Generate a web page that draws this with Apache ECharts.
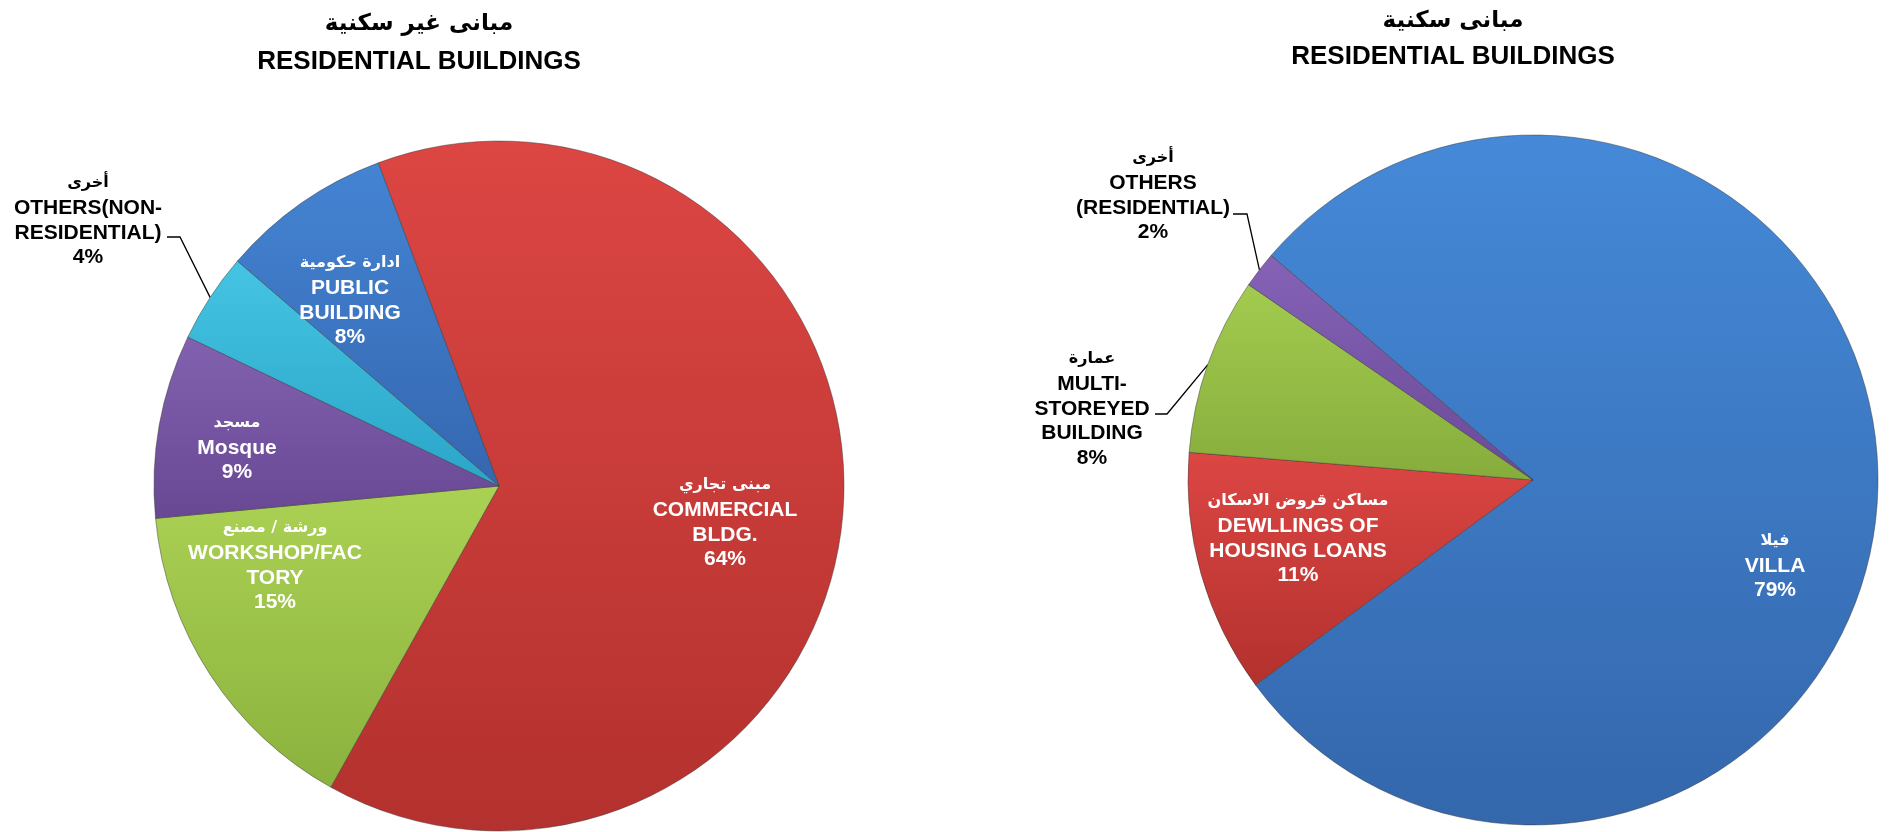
<!DOCTYPE html>
<html>
<head>
<meta charset="utf-8">
<script src="https://cdn.jsdelivr.net/npm/echarts@6/dist/echarts.min.js"></script>
<style>
  html, body { margin: 0; padding: 0; background: #ffffff; }
  #chart { width: 1889px; height: 832px; }
</style>
</head>
<body>
<div id="chart"></div>
<script>
// ---------------- DATA ----------------
const leftTitleAr = 'مبانى غير سكنية';
const leftTitleEn = 'RESIDENTIAL BUILDINGS';
const rightTitleAr = 'مبانى سكنية';
const rightTitleEn = 'RESIDENTIAL BUILDINGS';

// Non-residential (left pie), clockwise from top
const leftCategories = ['COMMERCIAL\nBLDG.', 'WORKSHOP/FAC\nTORY', 'Mosque', 'OTHERS(NON-\nRESIDENTIAL)', 'PUBLIC\nBUILDING'];
const leftArabic = ['مبنى تجاري', 'ورشة / مصنع', 'مسجد', 'أخرى', 'ادارة حكومية'];
const leftValues = [63.8, 15.4, 8.6, 4.2, 8.0];

// Residential (right pie), clockwise from top-left
const rightCategories = ['VILLA', 'DEWLLINGS OF\nHOUSING LOANS', 'MULTI-\nSTOREYED\nBUILDING', 'OTHERS\n(RESIDENTIAL)'];
const rightArabic = ['فيلا', 'مساكن قروض الاسكان', 'عمارة', 'أخرى'];
const rightValues = [78.6, 11.4, 8.3, 1.7];

// ---------------- STYLE / LAYOUT ----------------
const EN_FONT = '"Liberation Sans", Arial, "DejaVu Sans", sans-serif';
const AR_FONT = '"DejaVu Sans", "Liberation Sans", sans-serif';

const leftColors = [
  ['#dc4643', '#b3312e'],
  ['#abd154', '#8bb23d'],
  ['#8262b0', '#684893'],
  ['#44c4e2', '#2ba5c8'],
  ['#4484d3', '#3567b0']
];
const rightColors = [
  ['#4589d8', '#3467ac'],
  ['#dc4643', '#b3312e'],
  ['#a3cb4f', '#86ad3c'],
  ['#8562b6', '#6a4a98']
];
const leftOutside = [false, false, false, true, false];
const rightOutside = [false, false, true, true];

const leftPie = { center: [499, 486], radius: 345, start: 110.5 };
const rightPie = { center: [1533, 480], radius: 345, start: 139.4 };

// label block centre offsets from pie centre
const leftLabelOffsets = [[226, 36], [-224, 79], [-262, -39], [-411, -266], [-149, -186]];
const rightLabelOffsets = [[242, 85], [-235, 58], [-441, -72], [-380, -285]];
// leader line elbow / end offsets from pie centre (outside labels only)
const leftLeaders = { 3: [[-319, -249], [-332, -249]] };
const rightLeaders = { 2: [[-366, -66], [-378, -66]], 3: [[-286, -266], [-300, -266]] };

function grad(pair) {
  return {
    type: 'linear', x: 0, y: 0, x2: 0, y2: 1,
    colorStops: [{ offset: 0, color: pair[0] }, { offset: 1, color: pair[1] }]
  };
}

function midAngles(values, start) {
  const total = values.reduce((a, b) => a + b, 0);
  let a = start;
  return values.map(v => {
    const span = v / total * 360;
    const m = a - span / 2;
    a -= span;
    return m;
  });
}

function buildData(cats, vals, colors, outside) {
  return cats.map((c, i) => ({
    name: c,
    value: vals[i],
    itemStyle: { color: grad(colors[i]) },
    label: {
      position: outside[i] ? 'outside' : 'inside',
      color: outside[i] ? '#000000' : '#ffffff'
    },
    labelLine: { show: outside[i] }
  }));
}

function formatterFor(arabic) {
  return function (p) {
    const lines = p.name.split('\n').map(s => '{en|' + s + '}');
    return '{ar|' + arabic[p.dataIndex] + '}\n' + lines.join('\n') + '\n{en|' + Math.round(p.value) + '%}';
  };
}

function layoutFor(pie, offsets, leaders, values) {
  const mids = midAngles(values, pie.start);
  return function (params) {
    const i = params.dataIndex;
    const o = offsets[i];
    const res = {
      x: pie.center[0] + o[0],
      y: pie.center[1] + o[1],
      align: 'center',
      verticalAlign: 'middle'
    };
    if (leaders[i]) {
      const a = mids[i] * Math.PI / 180;
      const p0 = [pie.center[0] + pie.radius * Math.cos(a), pie.center[1] - pie.radius * Math.sin(a)];
      const l = leaders[i];
      res.labelLinePoints = [
        p0,
        [pie.center[0] + l[0][0], pie.center[1] + l[0][1]],
        [pie.center[0] + l[1][0], pie.center[1] + l[1][1]]
      ];
    }
    return res;
  };
}

const richStyles = {
  ar: { fontFamily: AR_FONT, fontSize: 16, fontWeight: 'bold', lineHeight: 26 },
  en: { fontFamily: EN_FONT, fontSize: 21, fontWeight: 'bold', lineHeight: 24.5 }
};

function pieSeries(pie, cats, vals, colors, outside, arabic, offsets, leaders) {
  return {
    type: 'pie',
    center: pie.center,
    radius: pie.radius,
    startAngle: pie.start,
    clockwise: true,
    avoidLabelOverlap: false,
    animation: false,
    emphasis: { disabled: true },
    itemStyle: { borderColor: 'rgba(50,50,50,0.45)', borderWidth: 1 },
    label: {
      show: true,
      formatter: formatterFor(arabic),
      rich: richStyles,
      align: 'center'
    },
    labelLine: {
      show: false,
      lineStyle: { color: '#000000', width: 1.3 }
    },
    labelLayout: layoutFor(pie, offsets, leaders, vals),
    data: buildData(cats, vals, colors, outside)
  };
}

const chart = echarts.init(document.getElementById('chart'), null, { renderer: 'canvas' });
chart.setOption({
  backgroundColor: '#ffffff',
  animation: false,
  title: [
    {
      text: '{ar|' + leftTitleAr + '}\n{en|' + leftTitleEn + '}',
      left: 414, top: 0, textAlign: 'center',
      textStyle: {
        rich: {
          ar: { fontFamily: AR_FONT, fontSize: 23, fontWeight: 'bold', lineHeight: 38, color: '#000' },
          en: { fontFamily: EN_FONT, fontSize: 26, fontWeight: 'bold', lineHeight: 38, color: '#000' }
        }
      }
    },
    {
      text: '{ar|' + rightTitleAr + '}\n{en|' + rightTitleEn + '}',
      left: 1448, top: -2, textAlign: 'center',
      textStyle: {
        rich: {
          ar: { fontFamily: AR_FONT, fontSize: 23, fontWeight: 'bold', lineHeight: 36, color: '#000' },
          en: { fontFamily: EN_FONT, fontSize: 26, fontWeight: 'bold', lineHeight: 36, color: '#000' }
        }
      }
    }
  ],
  series: [
    pieSeries(leftPie, leftCategories, leftValues, leftColors, leftOutside, leftArabic, leftLabelOffsets, leftLeaders),
    pieSeries(rightPie, rightCategories, rightValues, rightColors, rightOutside, rightArabic, rightLabelOffsets, rightLeaders)
  ]
});
</script>
</body>
</html>
